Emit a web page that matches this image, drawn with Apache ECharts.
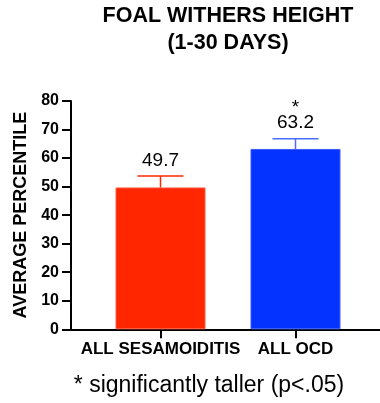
<!DOCTYPE html>
<html><head><meta charset="utf-8">
<script src="https://cdn.jsdelivr.net/npm/echarts@6/dist/echarts.min.js"></script>
<style>html,body{margin:0;padding:0;background:#fff}#c{width:380px;height:403px}</style>
</head><body><div id="c"></div>
<script>
const categories = ['ALL SESAMOIDITIS', 'ALL OCD'];
const means = [49.7, 63.2];
const errorUpper = [53.7, 66.8];
const significant = [false, true];
const barColors = ['#ff2600', '#0433ff'];
const barEdgeColors = ['#ff5a40', '#3a5cff'];
const capColors = ['#ff2600', '#4a6cff'];
const yTicks = [0, 10, 20, 30, 40, 50, 60, 70, 80];
const positions = [1, 2];
const titleLines = ['FOAL WITHERS HEIGHT', '(1-30 DAYS)'];
const footnote = '* significantly taller (p<.05)';
const yAxisName = 'AVERAGE PERCENTILE';

const FONT = '"Liberation Sans", Arial, sans-serif';
const chart = echarts.init(document.getElementById('c'), null, {renderer: 'canvas'});

const barData = means.map((v, i) => ({
  value: [positions[i], v],
  itemStyle: {color: barColors[i], borderColor: barEdgeColors[i], borderWidth: 1},
  label: {formatter: (significant[i] ? '*\n' : '') + v.toFixed(1)}
}));
const errData = means.map((v, i) => [positions[i], v, errorUpper[i]]);

chart.setOption({
  animation: false,
  graphic: [
    {type: 'text', x: 228, y: 16.5, style: {text: titleLines[0], fill: '#000', font: 'bold 21.5px ' + FONT, textAlign: 'center', textVerticalAlign: 'middle'}},
    {type: 'text', x: 228, y: 43, style: {text: titleLines[1], fill: '#000', font: 'bold 21.5px ' + FONT, textAlign: 'center', textVerticalAlign: 'middle'}},
    {type: 'text', x: 209, y: 386, style: {text: footnote, fill: '#000', font: '23px ' + FONT, textAlign: 'center', textVerticalAlign: 'middle'}}
  ],
  grid: {left: 71, right: 0, top: 101, bottom: 73.7},
  xAxis: {
    type: 'value', min: 0.337, max: 2.626,
    axisLine: {show: true, lineStyle: {color: '#000', width: 2}},
    axisTick: {show: true, customValues: positions, length: 9, lineStyle: {color: '#000', width: 2}},
    axisLabel: {
      customValues: positions, margin: 12,
      formatter: (v) => categories[positions.indexOf(Math.round(v))] || '',
      fontFamily: FONT, fontWeight: 'bold', fontSize: 17, color: '#000'
    },
    splitLine: {show: false}
  },
  yAxis: {
    type: 'value', min: yTicks[0], max: yTicks[yTicks.length - 1], interval: 10,
    name: yAxisName, nameLocation: 'middle', nameGap: 40.5,
    nameTextStyle: {fontFamily: FONT, fontWeight: 'bold', fontSize: 18, color: '#000'},
    axisLine: {show: true, lineStyle: {color: '#000', width: 2}},
    axisTick: {show: true, length: 9, lineStyle: {color: '#000', width: 2}},
    axisLabel: {margin: 12, fontFamily: FONT, fontWeight: 'bold', fontSize: 16, color: '#000'},
    splitLine: {show: false}
  },
  series: [{
    type: 'bar',
    barWidth: 90,
    data: barData,
    label: {
      show: true, position: 'top', distance: 19,
      fontFamily: FONT, fontSize: 19, lineHeight: 15, color: '#000'
    },
    z: 2
  }, {
    type: 'custom',
    data: errData,
    z: 3,
    renderItem: function (params, api) {
      const x = api.value(0);
      const p0 = api.coord([x, api.value(1)]);
      const p1 = api.coord([x, api.value(2)]);
      const half = 23;
      const col = capColors[params.dataIndex];
      return {
        type: 'group',
        children: [
          {type: 'line', shape: {x1: p0[0], y1: p0[1], x2: p1[0], y2: p1[1]}, style: {stroke: col, lineWidth: 1.5}},
          {type: 'line', shape: {x1: p1[0] - half, y1: p1[1], x2: p1[0] + half, y2: p1[1]}, style: {stroke: col, lineWidth: 1.5}}
        ]
      };
    }
  }]
});
</script></body></html>
